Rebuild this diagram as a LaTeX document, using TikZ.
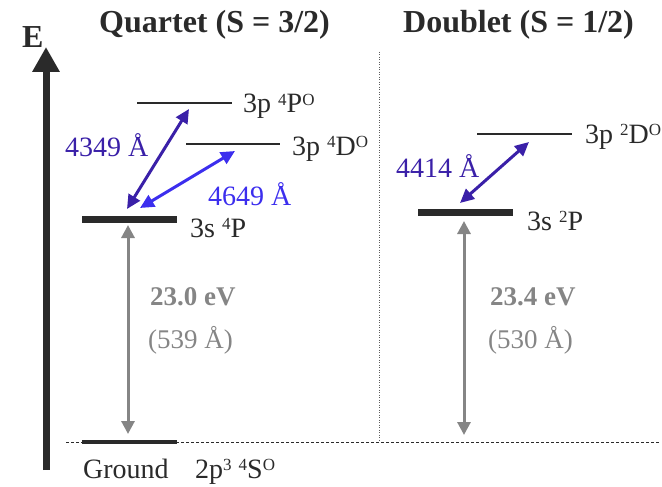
\documentclass[tikz,border=0pt]{standalone}
\usepackage{fontspec}
\setmainfont{Liberation Serif}
\usetikzlibrary{arrows.meta}
\definecolor{ink}{HTML}{2A2A2A}
\definecolor{indigo}{HTML}{3A20A8}
\definecolor{brightblue}{HTML}{3C2EEE}
\definecolor{midgray}{HTML}{858585}
\newcommand{\sps}[1]{\raisebox{7.4pt}{\fontsize{17}{17}\selectfont #1}}
\tikzset{
  lbl/.style={anchor=base west, inner sep=0pt, text=ink, font=\fontsize{28}{30}\selectfont},
  ttl/.style={anchor=base west, inner sep=0pt, text=ink, font=\fontsize{32}{34}\selectfont\bfseries},
  thinlevel/.style={draw=ink, line width=2.6pt},
  thicklevel/.style={draw=ink, line width=7pt},
  transA/.style={draw=indigo, line width=3pt, {Triangle[length=14pt,width=13pt]}-{Triangle[length=14pt,width=13pt]}},
  transB/.style={draw=brightblue, line width=3pt, {Triangle[length=14pt,width=13pt]}-{Triangle[length=14pt,width=13pt]}},
  ionarr/.style={draw=midgray, line width=3pt, {Triangle[length=13pt,width=13pt]}-{Triangle[length=13pt,width=13pt]}},
  glbl/.style={anchor=base west, inner sep=0pt, text=midgray, font=\fontsize{27}{29}\selectfont},
}
\begin{document}
\begin{tikzpicture}[x=1pt,y=-1pt]
\useasboundingbox (0,0) rectangle (662,487);
% energy axis
\coordinate (ebot) at (46,470);
\coordinate (etop) at (46,47);
\draw[draw=ink, line width=7pt, -{Triangle[length=25pt,width=26pt]}] (ebot) -- (etop);
\node[ttl] (E) at (22,48) {E};
% titles
\node[ttl] (tq) at (99,33) {Quartet (S = 3/2)};
\node[ttl] (td) at (403,33) {Doublet (S = 1/2)};
% separators
\draw[midgray!70!black, line width=1pt, dash pattern=on 1pt off 1.5pt] (379,52) -- (379,440);
\draw[ink, line width=1pt, dash pattern=on 2.5pt off 2.5pt] (66,442) -- (660,442);
% quartet levels
\draw[thinlevel] (137,103) coordinate (qPa) -- (232,103) coordinate (qPb);
\draw[thinlevel] (186,144) coordinate (qDa) -- (280,144) coordinate (qDb);
\draw[thicklevel] (82,219) coordinate (qSa) -- (177,219) coordinate (qSb);
\draw[ink, line width=3.6pt] (82,442) coordinate (gA) -- (177,442) coordinate (gB);
\node[lbl] (l4P) at (243,113) {3p \sps{4}P\sps{O}};
\node[lbl] (l4D) at (292,155) {3p \sps{4}D\sps{O}};
\node[lbl] (l4S) at (190,237) {3s \sps{4}P};
\node[lbl] (lg) at (83,478) {Ground};
\node[lbl] (lgc) at (195,478) {2p\sps{3} \sps{4}S\sps{O}};
% doublet levels
\draw[thinlevel] (477,134) coordinate (dDa) -- (572,134) coordinate (dDb);
\draw[thicklevel] (418,212) coordinate (dSa) -- (513,212) coordinate (dSb);
\node[lbl] (l2D) at (585,143) {3p \sps{2}D\sps{O}};
\node[lbl] (l2S) at (527,230) {3s \sps{2}P};
% transitions
\coordinate (a1s) at (127,209); \coordinate (a1e) at (189,109);
\coordinate (a2s) at (140,208); \coordinate (a2e) at (235,151);
\coordinate (a3s) at (460,203); \coordinate (a3e) at (529,142);
\draw[transA] (a1s) -- (a1e);
\draw[transB] (a2s) -- (a2e);
\draw[transA] (a3s) -- (a3e);
\node[lbl, text=indigo] (w1) at (65,156) {4349 Å};
\node[lbl, text=brightblue] (w2) at (208,205) {4649 Å};
\node[lbl, text=indigo] (w3) at (396,177) {4414 Å};
% gap arrows
\coordinate (g1t) at (128,225); \coordinate (g1b) at (128,434);
\coordinate (g2t) at (464,221); \coordinate (g2b) at (464,435);
\draw[ionarr] (g1b) -- (g1t);
\draw[ionarr] (g2b) -- (g2t);
\node[glbl, font=\fontsize{27}{29}\selectfont\bfseries] (e1) at (150,305) {23.0 eV};
\node[glbl] (w4) at (148,348) {(539 Å)};
\node[glbl, font=\fontsize{27}{29}\selectfont\bfseries] (e2) at (490,305) {23.4 eV};
\node[glbl] (w5) at (488,348) {(530 Å)};
\end{tikzpicture}
\end{document}
